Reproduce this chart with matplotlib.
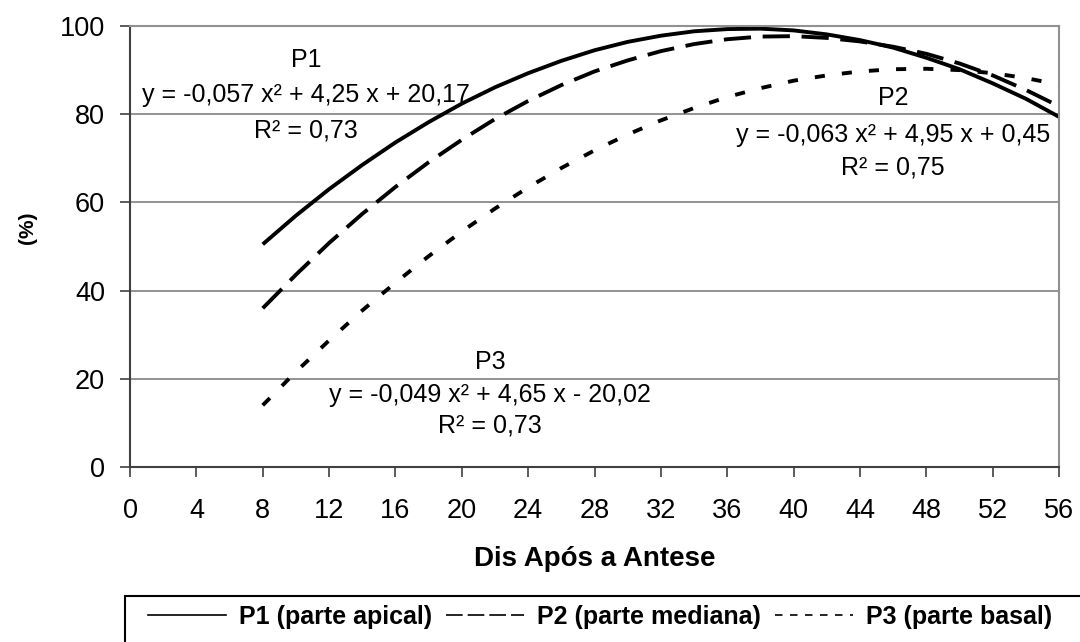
import matplotlib
matplotlib.use('Agg')
import matplotlib.pyplot as plt
from matplotlib.lines import Line2D
from matplotlib.patches import Rectangle

plt.rcParams['font.family'] = ['Liberation Sans', 'DejaVu Sans']

# dias apos a antese e % (curvas ajustadas)
dias = [8, 10, 12, 14, 16, 18, 20, 22, 24, 26, 28, 30, 32, 34, 36, 38, 40, 42, 44, 46, 48, 50, 52, 54, 56]
p1 = [50.5, 57.0, 63.0, 68.5, 73.6, 78.2, 82.4, 86.1, 89.3, 92.1, 94.5, 96.4, 97.8, 98.8, 99.3,
      99.4, 99.0, 98.1, 96.8, 95.1, 92.8, 90.2, 87.0, 83.5, 79.4]
p2 = [36.0, 43.6, 50.8, 57.4, 63.5, 69.1, 74.2, 78.9, 83.0, 86.6, 89.7, 92.2, 94.3, 95.9, 97.0,
      97.6, 97.7, 97.3, 96.5, 95.3, 93.7, 91.5, 88.8, 85.5, 81.8]
p3 = [14.0, 21.6, 28.7, 35.5, 41.8, 47.8, 53.4, 58.6, 63.4, 67.8, 71.8, 75.4, 78.6, 81.4, 83.9,
      85.9, 87.6, 88.8, 89.7, 90.2, 90.3, 90.0, 89.3, 88.2, 86.7]

nomes = ['P1 (parte apical)', 'P2 (parte mediana)', 'P3 (parte basal)']
rotulos = ['P1', 'P2', 'P3']
equacoes = ['y = -0,057 x² + 4,25 x + 20,17',
            'y = -0,063 x² + 4,95 x + 0,45',
            'y = -0,049 x² + 4,65 x - 20,02']
r2 = ['R² = 0,73', 'R² = 0,75', 'R² = 0,73']

fig = plt.figure(figsize=(10.8, 6.42), dpi=100)
ax = fig.add_axes([0.1204, 0.2726, 0.8602, 0.6869])

ax.plot(dias, p1, color='black', lw=2.8, solid_capstyle='butt')
ax.plot(dias, p2, color='black', lw=2.8, ls=(0, (7.0, 3.0)))
ax.plot(dias, p3, color='black', lw=2.8, ls=(0, (2.6, 4.4)))

# posicao (x, y do rotulo, y da equacao, y do R2)
pos = [(10.6, 92.3, 84.4, 76.4), (46.0, 83.7, 75.3, 68.0), (21.7, 23.8, 16.3, 9.5)]
for i in range(3):
    x, ya, yb, yc = pos[i]
    ax.text(x, ya, rotulos[i], ha='center', va='center', fontsize=18)
    ax.text(x, yb, equacoes[i], ha='center', va='center', fontsize=18)
    ax.text(x, yc, r2[i], ha='center', va='center', fontsize=18)

ax.set_xlim(0, 56)
ax.set_ylim(0, 100)
ax.set_xticks(range(0, 57, 4))
ax.set_yticks(range(0, 101, 20))
ax.grid(axis='y', color='#808080', lw=1.2)
ax.set_axisbelow(True)
ax.tick_params(labelsize=19.5, length=7, width=1.2, color='#404040')
ax.tick_params(axis='x', pad=15)
ax.tick_params(axis='y', pad=11)
for s in ['left', 'bottom']:
    ax.spines[s].set_color('#404040')
    ax.spines[s].set_linewidth(1.5)
for s in ['right', 'top']:
    ax.spines[s].set_color('#909090')
    ax.spines[s].set_linewidth(1.5)

ax.set_xlabel('Dis Após a Antese', fontsize=20, fontweight='bold')
ax.xaxis.set_label_coords(0.5, -0.18)
ax.set_ylabel('(%)', fontsize=15, fontweight='bold')
ax.yaxis.set_label_coords(-0.1, 0.542)

# caixa da legenda (passa da borda direita e de baixo)
fig.patches.append(Rectangle((125 / 1080, -0.05), 1.0, 0.05 + 46 / 642, transform=fig.transFigure,
                             fill=False, edgecolor='black', lw=1.5))
handles = [Line2D([], [], color='black', lw=1.2),
           Line2D([], [], color='black', lw=1.2, ls=(0, (10.0, 3.0))),
           Line2D([], [], color='black', lw=1.2, ls=(0, (4.5, 4.5)))]
leg = fig.legend(handles, nomes, loc='center left', bbox_to_anchor=(148 / 1080, 1 - 617 / 642),
                 ncol=3, frameon=False, prop={'size': 18, 'weight': 'bold'}, handlelength=3.1,
                 handletextpad=0.55, columnspacing=0.55, borderpad=0, borderaxespad=0)

plt.savefig('out.png', dpi=100)
